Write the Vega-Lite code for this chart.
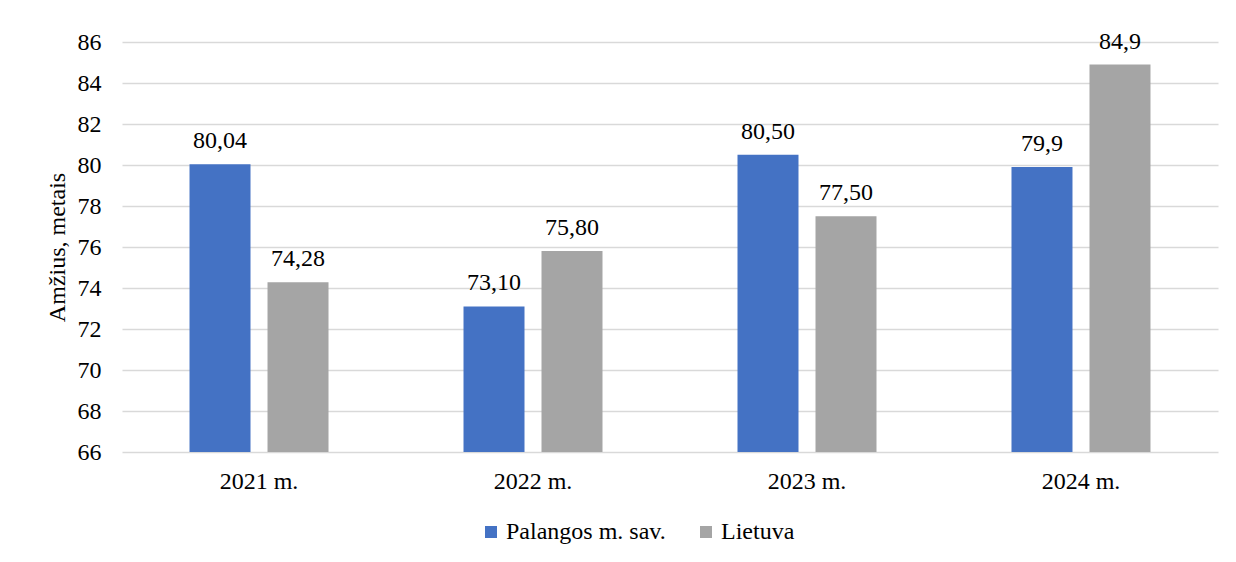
{
  "$schema": "https://vega.github.io/schema/vega-lite/v6.json",
  "width": 1096,
  "height": 410,
  "autosize": {"type": "none"},
  "padding": {"left": 122, "top": 42, "right": 18, "bottom": 110},
  "background": "white",
  "config": {
    "view": {"stroke": null},
    "font": "Liberation Serif",
    "axis": {"labelFont": "Liberation Serif", "titleFont": "Liberation Serif", "labelColor": "#000000", "titleColor": "#000000"}
  },
  "data": {
    "values": [
      {"year": "2021 m.", "series": "Palangos m. sav.", "value": 80.04, "label": "80,04"},
      {"year": "2021 m.", "series": "Lietuva", "value": 74.28, "label": "74,28"},
      {"year": "2022 m.", "series": "Palangos m. sav.", "value": 73.10, "label": "73,10"},
      {"year": "2022 m.", "series": "Lietuva", "value": 75.80, "label": "75,80"},
      {"year": "2023 m.", "series": "Palangos m. sav.", "value": 80.50, "label": "80,50"},
      {"year": "2023 m.", "series": "Lietuva", "value": 77.50, "label": "77,50"},
      {"year": "2024 m.", "series": "Palangos m. sav.", "value": 79.9, "label": "79,9"},
      {"year": "2024 m.", "series": "Lietuva", "value": 84.9, "label": "84,9"}
    ]
  },
  "encoding": {
    "x": {
      "field": "year", "type": "nominal", "sort": null,
      "scale": {"paddingInner": 0.4927, "paddingOuter": 0.2464},
      "axis": {"title": null, "labelAngle": 0, "labelFontSize": 24, "labelPadding": 17, "ticks": false, "domain": false}
    },
    "xOffset": {
      "field": "series", "type": "nominal",
      "scale": {"domain": ["Palangos m. sav.", "Lietuva"], "paddingInner": 0.218, "paddingOuter": 0}
    },
    "y": {
      "field": "value", "type": "quantitative",
      "scale": {"domain": [66, 86], "zero": false, "nice": false},
      "axis": {
        "title": "Amžius, metais", "titleFontSize": 24, "titleFontWeight": "normal", "titlePadding": 8,
        "values": [66, 68, 70, 72, 74, 76, 78, 80, 82, 84, 86],
        "labelFontSize": 24, "labelPadding": 21, "ticks": false, "domain": false,
        "gridColor": "#D9D9D9", "gridWidth": 1.5
      }
    }
  },
  "layer": [
    {
      "mark": {"type": "bar", "clip": true},
      "encoding": {
        "color": {
          "field": "series", "type": "nominal",
          "scale": {"domain": ["Palangos m. sav.", "Lietuva"], "range": ["#4472C4", "#A5A5A5"]},
          "legend": {
            "orient": "none", "legendX": 357, "legendY": 478, "direction": "horizontal",
            "title": null, "symbolType": "square", "symbolSize": 144, "symbolStrokeWidth": 0,
            "labelFontSize": 24, "labelFont": "Liberation Serif", "labelColor": "#000000",
            "columnPadding": 28, "labelOffset": 3
          }
        }
      }
    },
    {
      "mark": {"type": "text", "baseline": "alphabetic", "dy": -16, "fontSize": 24, "color": "#000000", "font": "Liberation Serif"},
      "encoding": {"text": {"field": "label"}}
    }
  ]
}
